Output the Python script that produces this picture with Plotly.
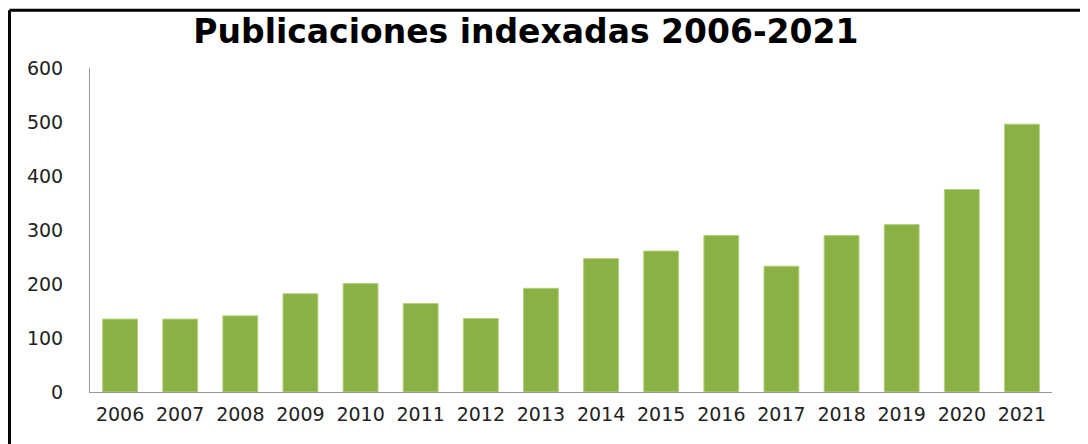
import plotly.graph_objects as go

years = ["2006", "2007", "2008", "2009", "2010", "2011", "2012", "2013",
         "2014", "2015", "2016", "2017", "2018", "2019", "2020", "2021"]
publicaciones = [135, 135, 141, 182, 201, 164, 136, 192,
                 247, 261, 290, 233, 290, 310, 375, 496]
y_ticks = [0, 100, 200, 300, 400, 500, 600]

fig = go.Figure()
fig.add_trace(go.Bar(
    x=years, y=publicaciones,
    marker=dict(color="#8BB045", line=dict(color="#B5D27A", width=1)),
    hoverinfo="x+y",
))

tick_font = dict(family="DejaVu Sans", size=19, color="#222")

fig.update_layout(
    width=1088, height=444,
    paper_bgcolor="white", plot_bgcolor="white",
    margin=dict(l=82, r=44, t=60, b=60),
    bargap=0.42,
    showlegend=False,
    title=dict(text="<b>Publicaciones indexadas 2006-2021</b>",
               x=0.476, xanchor="center", y=0.948, yanchor="middle",
               font=dict(family="DejaVu Sans", size=33, color="black")),
    font=dict(family="DejaVu Sans", size=19, color="#222"),
    xaxis=dict(showline=True, linecolor="#999", linewidth=1, showgrid=False,
               ticks="", tickfont=tick_font, ticklabelstandoff=5,
               automargin=False),
    yaxis=dict(range=[0, 600], tickvals=y_ticks, showline=True, linecolor="#999",
               linewidth=1, showgrid=False, zeroline=False, ticks="",
               tickfont=tick_font, ticklabelstandoff=22, automargin=False),
    shapes=[
        dict(type="line", xref="paper", yref="paper", x0=-0.0837, x1=1.1,
             y0=1.178, y1=1.178, line=dict(color="black", width=3)),
        dict(type="line", xref="paper", yref="paper", x0=-0.0837, x1=-0.0837,
             y0=-0.25, y1=1.178, line=dict(color="black", width=3)),
    ],
)

fig.write_html("out.html")
